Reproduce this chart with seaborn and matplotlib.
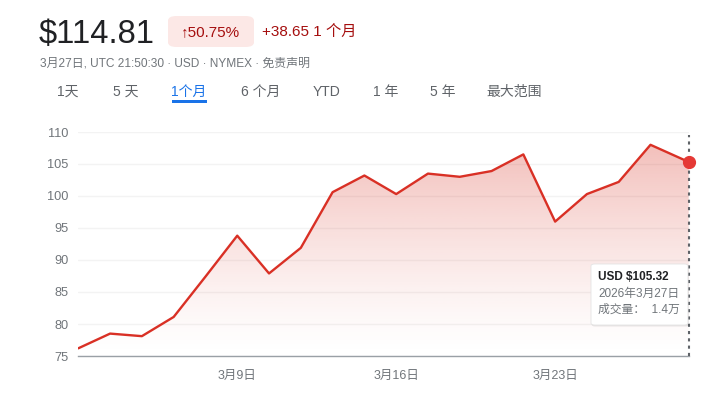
import numpy as np
import pandas as pd
import matplotlib
matplotlib.use("Agg")
import matplotlib.pyplot as plt
import seaborn as sns
from matplotlib.patches import FancyBboxPatch, Polygon, Rectangle

# ---- data -------------------------------------------------------------
trade_dates = [
    "2026-03-02", "2026-03-03", "2026-03-04", "2026-03-05", "2026-03-06",
    "2026-03-09", "2026-03-10", "2026-03-11", "2026-03-12", "2026-03-13",
    "2026-03-16", "2026-03-17", "2026-03-18", "2026-03-19", "2026-03-20",
    "2026-03-23", "2026-03-24", "2026-03-25", "2026-03-26", "2026-03-27",
]
close_prices = [
    76.2, 78.5, 78.1, 81.1, 87.4,
    93.8, 87.9, 91.9, 100.6, 103.2,
    100.3, 103.5, 103.0, 103.9, 106.5,
    96.0, 100.3, 102.2, 108.0, 105.32,
]
daily_point_hour = 17.0                 # UTC hour of each daily point
last_quote_time = "2026-03-27 21:50:30"  # intraday time of the final point

y_ticks = [75, 80, 85, 90, 95, 100, 105, 110]
x_tick_dates = ["2026-03-09", "2026-03-16", "2026-03-23"]
x_tick_labels = ["3月9日", "3月16日", "3月23日"]

headline_price = "$114.81"
change_pct = "↑50.75%"
change_abs = "+38.65 1 个月"
subtitle = "3月27日, UTC 21:50:30 · USD · NYMEX · 免责声明"
range_tabs = ["1天", "5 天", "1个月", "6 个月", "YTD", "1 年", "5 年", "最大范围"]
active_tab = "1个月"
tip_lines = ["USD $105.32", "2026年3月27日", "成交量：  1.4万"]

# ---- positions on a trading-session axis --------------------------------
start = np.datetime64(trade_dates[0])
session_pos = np.busday_count(start, np.array(trade_dates, dtype="datetime64[D]")).astype(float)
lq = pd.Timestamp(last_quote_time)
session_pos[-1] += (lq.hour + lq.minute / 60 + lq.second / 3600 - daily_point_hour) / 24
tick_pos = np.busday_count(start, np.array(x_tick_dates, dtype="datetime64[D]")).astype(float)

df = pd.DataFrame({"pos": session_pos, "price": close_prices})

# ---- style ----------------------------------------------------------------
sns.set_theme(style="white")
FAM = ["Liberation Sans", "Noto Sans CJK SC", "DejaVu Sans"]
plt.rcParams["font.family"] = FAM

W, H = 717, 393
fig = plt.figure(figsize=(W / 100, H / 100), dpi=100)
fig.patch.set_facecolor("white")


def fx(x):
    return x / W


def fy(y):
    return 1 - y / H


GREY = "#70757a"
DARK = "#202124"

ax_left, ax_right, ax_top, ax_bottom = 78.3, 688.7, 132, 356
ax = fig.add_axes([fx(ax_left), fy(ax_bottom), (ax_right - ax_left) / W, (ax_bottom - ax_top) / H])
ax.set_facecolor("white")

x0, x1 = session_pos[0], session_pos[-1]
ax.set_xlim(x0, x1)
ax.set_ylim(75, 110)

# gridlines
for t in y_ticks:
    ax.axhline(t, color="#f3f3f3", lw=1.0, zorder=0)

# gradient fill under the line
verts = [(x0, 75)] + list(zip(session_pos, close_prices)) + [(x1, 75)]
clip = Polygon(verts, closed=True, transform=ax.transData, facecolor="none", edgecolor="none")
ax.add_patch(clip)
grad = np.linspace(0.0, 1.0, 256).reshape(-1, 1)
rgba = np.zeros((256, 1, 4))
rgba[..., 0] = 0xdb / 255
rgba[..., 1] = 0x44 / 255
rgba[..., 2] = 0x37 / 255
rgba[..., 3] = 0.34 * grad ** 1.3
img = ax.imshow(rgba, extent=[x0, x1, 75, max(close_prices)], origin="lower",
                aspect="auto", zorder=1, interpolation="bilinear")
img.set_clip_path(clip)

# price line
sns.lineplot(data=df, x="pos", y="price", ax=ax, color="#d93025", lw=1.7, zorder=3)
ax.plot([session_pos[-1]], [close_prices[-1]], "o", color="#e53935", ms=8.5, zorder=5,
        clip_on=False)

# hover guide
ax.plot([session_pos[-1], session_pos[-1]], [75, 109.5], color="#5f6368", lw=1.5,
        ls=(0, (1.5, 2)), zorder=4, clip_on=False)

# axes styling
for s in ["top", "right", "left"]:
    ax.spines[s].set_visible(False)
ax.spines["bottom"].set_color("#9aa0a6")
ax.spines["bottom"].set_linewidth(1.0)
ax.set_yticks(y_ticks)
ax.set_yticklabels([str(t) for t in y_ticks])
ax.tick_params(axis="y", length=0, pad=7, labelsize=9.2, labelcolor=GREY)
ax.set_xticks(tick_pos)
ax.set_xticklabels(x_tick_labels)
ax.tick_params(axis="x", length=4, width=1.6, color="#5f6368", direction="out",
               pad=6, labelsize=9, labelcolor=GREY)
ax.set_xlabel("")
ax.set_ylabel("")

# tooltip
bx0, by0, bx1, by1 = 591, 264, 688, 325
shadow = FancyBboxPatch((fx(bx0) + 0.001, fy(by1) - 0.004), (bx1 - bx0) / W, (by1 - by0) / H,
                        boxstyle="round,pad=0,rounding_size=0.005", transform=fig.transFigure,
                        facecolor="#000000", alpha=0.08, edgecolor="none", zorder=8)
fig.patches.append(shadow)
box = FancyBboxPatch((fx(bx0), fy(by1)), (bx1 - bx0) / W, (by1 - by0) / H,
                     boxstyle="round,pad=0,rounding_size=0.005", transform=fig.transFigure,
                     facecolor="white", edgecolor="#e3e3e3", lw=0.6, zorder=9)
fig.patches.append(box)
for i, (txt, yy) in enumerate(zip(tip_lines, [277, 293.5, 310])):
    fig.text(fx(598), fy(yy), txt, fontsize=8.5, va="center", ha="left",
             color=DARK if i == 0 else GREY, fontweight="bold" if i == 0 else "normal",
             zorder=10)

# ---- header -----------------------------------------------------------
fig.text(fx(39), fy(34), headline_price, fontsize=23.5, color=DARK, va="center", ha="left")
badge = FancyBboxPatch((fx(168), fy(47)), (254 - 168) / W, (47 - 16) / H,
                       boxstyle="round,pad=0,rounding_size=0.012", transform=fig.transFigure,
                       facecolor="#fce8e6", edgecolor="none")
fig.patches.append(badge)
fig.text(fx(211), fy(32), change_pct, fontsize=11, color="#a50e0e", va="center", ha="center")
fig.text(fx(262), fy(32), change_abs, fontsize=11, color="#a50e0e", va="center", ha="left")
fig.text(fx(40), fy(63), subtitle, fontsize=8.6, color=GREY, va="center", ha="left")

tab_x = [57, 113, 171, 241, 313, 373, 430, 486]
for lbl, tx in zip(range_tabs, tab_x):
    is_active = lbl == active_tab
    fig.text(fx(tx), fy(92), lbl, fontsize=10, va="center", ha="left",
             color="#1a73e8" if is_active else "#5f6368")
    if is_active:
        fig.patches.append(Rectangle((fx(172), fy(103)), (207 - 172) / W, 2.5 / H,
                                     transform=fig.transFigure, facecolor="#1a73e8",
                                     edgecolor="none"))

fig.savefig("out.png", dpi=100, facecolor="white")
